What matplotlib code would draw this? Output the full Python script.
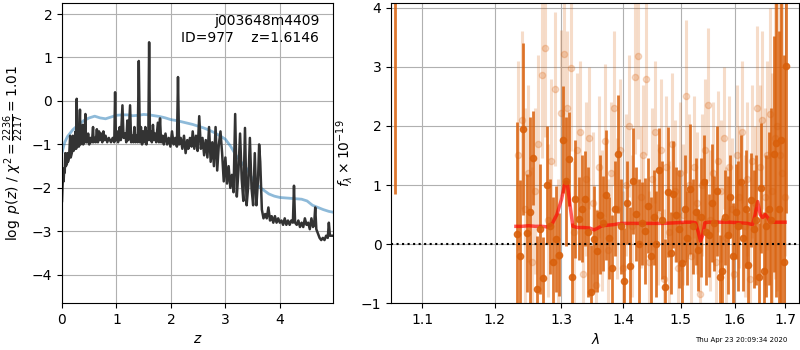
import numpy as np
import matplotlib
matplotlib.use('Agg')
import matplotlib.pyplot as plt
from matplotlib.ticker import FixedLocator, NullLocator, FixedFormatter

# --- p(z) panel ---
z_grid = [0.00, 0.01, 0.02, 0.03, 0.04, 0.05, 0.06, 0.07, 0.09, 0.10, 0.11, 0.13, 0.15, 0.16,
          0.18, 0.20, 0.21, 0.23, 0.25, 0.26, 0.27, 0.28, 0.30, 0.31, 0.33, 0.34, 0.36, 0.38,
          0.39, 0.41, 0.43, 0.44, 0.46, 0.48, 0.50, 0.52, 0.55, 0.57, 0.58, 0.60, 0.62, 0.64,
          0.66, 0.68, 0.70, 0.72, 0.74, 0.76, 0.78, 0.80, 0.83, 0.86, 0.90, 0.93, 0.96, 0.975,
          0.99, 1.01, 1.03, 1.06, 1.08, 1.11, 1.13, 1.16, 1.18, 1.20, 1.22, 1.25, 1.27, 1.29,
          1.31, 1.33, 1.35, 1.37, 1.39, 1.41, 1.43, 1.45, 1.47, 1.49, 1.51, 1.53, 1.55, 1.57,
          1.585, 1.60, 1.615, 1.63, 1.65, 1.67, 1.69, 1.71, 1.73, 1.76, 1.78, 1.80, 1.82, 1.85,
          1.87, 1.90, 1.93, 1.96, 1.99, 2.02, 2.05, 2.08, 2.11, 2.13, 2.15, 2.18, 2.21, 2.24,
          2.27, 2.30, 2.32, 2.35, 2.38, 2.40, 2.43, 2.46, 2.49, 2.52, 2.55, 2.58, 2.61, 2.64,
          2.67, 2.70, 2.73, 2.76, 2.79, 2.82, 2.85, 2.88, 2.91, 2.94, 2.97, 3.00, 3.03, 3.06,
          3.09, 3.12, 3.15, 3.18, 3.21, 3.24, 3.27, 3.30, 3.33, 3.36, 3.39, 3.42, 3.45, 3.48,
          3.51, 3.54, 3.57, 3.60, 3.62, 3.64, 3.67, 3.70, 3.73, 3.76, 3.79, 3.82, 3.85, 3.88,
          3.91, 3.94, 3.97, 4.00, 4.03, 4.06, 4.09, 4.12, 4.15, 4.18, 4.21, 4.24, 4.26, 4.28,
          4.31, 4.34, 4.37, 4.40, 4.43, 4.46, 4.49, 4.52, 4.55, 4.58, 4.61, 4.63, 4.65, 4.67,
          4.70, 4.73, 4.76, 4.79, 4.82, 4.85, 4.88, 4.90, 4.92, 4.95, 4.98]
logpz = [-2.30, -1.95, -1.70, -1.85, -1.55, -1.65, -1.20, -1.50, -1.45, -1.20, -1.40, -1.30, -0.80, -1.30,
         -1.20, -0.80, -1.15, -1.10, -0.70, -1.10, 0.05, -1.05, -0.80, -1.05, -0.20, -1.00, -0.95, -0.55,
         -1.00, -0.90, -0.30, -0.95, -0.95, -0.75, -1.00, -0.85, -0.95, -0.60, -0.95, -0.85, -0.95, -0.65,
         -0.95, -0.70, -0.90, -0.75, -0.95, -0.70, -0.90, -0.80, -0.95, -0.85, -0.95, -0.85, -0.95, 0.20,
         -0.90, -0.70, -0.95, -0.60, -0.90, -0.10, -0.85, -0.75, -0.95, -0.45, -0.90, -0.10, -0.95, -0.80,
         -0.95, -0.60, -0.95, -0.80, -0.95, 0.92, -0.95, -0.60, -1.00, -0.70, -0.95, -0.60, -1.00, -0.70,
         -0.90, 1.35, -0.90, -0.70, -0.95, -0.55, -0.90, -0.75, -0.95, -0.50, -0.95, -0.40, -0.95, -0.80,
         -1.00, -0.75, -1.00, -0.85, -1.05, -0.70, -1.00, -0.85, -1.05, 0.55, -1.00, -0.85, -1.10, -0.80,
         -1.20, -0.90, -1.10, -0.85, -1.05, -0.70, -1.10, -0.80, -1.15, -0.35, -1.10, -0.85, -1.25, -0.90,
         -1.30, -0.60, -1.40, -0.95, -1.50, -0.60, -1.60, -1.00, -0.70, -1.20, -1.85, -1.30, -1.90, -1.50,
         -2.00, -1.70, -2.10, -0.30, -2.20, -1.60, -0.75, -1.80, -2.30, -0.62, -2.40, -1.95, -0.85, -2.00,
         -2.40, -1.20, -2.40, -1.80, -1.00, -1.40, -2.50, -2.70, -2.60, -2.70, -2.45, -2.75, -2.65, -2.80,
         -2.65, -2.80, -2.70, -2.80, -2.75, -2.85, -2.70, -2.85, -2.75, -2.85, -2.75, -2.80, -1.95, -2.80,
         -2.85, -2.75, -2.90, -2.80, -2.90, -2.70, -2.85, -2.80, -2.95, -2.70, -2.90, -2.85, -2.45, -2.95,
         -3.05, -3.15, -3.20, -3.15, -3.20, -3.10, -3.15, -2.80, -3.10, -3.10, -3.10]

z_prior = [0.00, 0.05, 0.10, 0.20, 0.30, 0.40, 0.50, 0.60, 0.65, 0.70, 0.80, 0.90, 1.00, 1.10,
           1.20, 1.30, 1.40, 1.50, 1.60, 1.70, 1.80, 1.90, 2.00, 2.10, 2.20, 2.30, 2.40, 2.50,
           2.60, 2.70, 2.80, 2.90, 3.00, 3.10, 3.20, 3.30, 3.40, 3.50, 3.60, 3.70, 3.80, 3.90,
           4.00, 4.10, 4.20, 4.30, 4.40, 4.50, 4.60, 4.70, 4.80, 4.90, 4.98]
logp_prior = [-1.19, -0.95, -0.82, -0.66, -0.55, -0.45, -0.39, -0.35, -0.37, -0.39, -0.41, -0.37, -0.33, -0.32,
              -0.32, -0.34, -0.33, -0.31, -0.32, -0.34, -0.36, -0.39, -0.43, -0.45, -0.48, -0.51, -0.54, -0.58,
              -0.62, -0.67, -0.73, -0.80, -0.88, -1.05, -1.26, -1.42, -1.57, -1.80, -1.95, -2.05, -2.14, -2.19,
              -2.22, -2.23, -2.24, -2.25, -2.26, -2.30, -2.40, -2.45, -2.50, -2.54, -2.56]

# --- spectrum panel ---
wave_a = [1.065,
          1.232, 1.237, 1.242, 1.247, 1.252, 1.257, 1.262, 1.267, 1.272, 1.277, 1.282, 1.287, 1.292,
          1.297, 1.302, 1.307, 1.312, 1.317, 1.322, 1.327, 1.332, 1.337, 1.342, 1.347, 1.352, 1.357,
          1.362, 1.367, 1.372, 1.377, 1.382, 1.387, 1.392, 1.397, 1.402, 1.407, 1.412, 1.417, 1.422,
          1.427, 1.432, 1.437, 1.442, 1.447, 1.452, 1.457, 1.462, 1.467, 1.472, 1.477, 1.482, 1.487,
          1.492, 1.497, 1.502, 1.507, 1.512, 1.517, 1.522, 1.527, 1.532, 1.537, 1.542, 1.547, 1.552,
          1.557, 1.562, 1.567, 1.572, 1.577, 1.582, 1.587, 1.592, 1.597, 1.602, 1.607, 1.612, 1.617,
          1.622, 1.627, 1.632, 1.637, 1.642, 1.647, 1.652, 1.657, 1.662, 1.667, 1.672, 1.677, 1.682,
          1.687, 1.692, 1.697, 1.702]
flux_a = [4.60,
          0.17, -0.21, 1.95, 0.19, 0.55, 1.46, -0.76, 0.26, -0.58, 1.00, 0.30, -0.30, 0.08,
          -0.18, 1.77, 1.06, 1.44, -0.55, 0.77, 0.43, 0.60, 0.77, 0.20, -0.82, 0.09, -0.12,
          0.50, 0.35, 0.83, 0.10, -0.40, 0.60, 1.53, 0.30, -0.62, 0.70, -0.38, 1.07, 0.51,
          0.00, 0.35, 0.22, 0.65, -0.20, 0.45, 0.00, 1.26, 0.40, -0.72, 0.88, -0.15, 0.84,
          0.50, 0.25, -0.32, 0.60, 0.10, 0.94, 0.30, 0.55, -0.10, 0.45, 1.05, 0.20, 0.15,
          0.70, 0.35, 0.90, -0.55, -0.46, 0.45, 0.15, 0.80, -0.20, 0.55, 0.30, 1.05, 0.10,
          0.60, -0.35, 0.75, 0.25, 0.40, -0.55, 0.95, -0.46, 0.30, 0.60, 0.40, 1.53, 1.71,
          0.60, 1.77, -0.30, 3.02]
err_a = [3.75,
         1.90, 1.30, 1.45, 1.00, 1.60, 0.80, 0.90, 1.10, 0.70, 1.00, 0.80, 1.10, 0.90,
         0.70, 0.90, 1.10, 0.80, 0.90, 1.00, 0.70, 0.90, 0.80, 1.10, 0.80, 0.90, 0.70,
         1.00, 0.80, 1.10, 0.70, 0.90, 0.80, 1.00, 0.80, 0.90, 0.70, 1.00, 0.90, 0.80,
         1.10, 0.70, 0.90, 0.80, 1.00, 0.80, 0.90, 0.70, 1.00, 0.80, 1.10, 0.70, 0.90,
         0.80, 1.00, 0.70, 0.90, 0.80, 1.10, 0.80, 0.90, 0.70, 1.00, 0.80, 0.90, 0.70,
         1.00, 0.80, 1.10, 0.70, 0.90, 0.80, 1.00, 0.70, 0.90, 0.80, 1.10, 0.80, 0.90,
         1.00, 0.90, 0.80, 1.00, 1.10, 0.90, 1.10, 1.00, 1.20, 1.30, 1.90, 2.00, 2.60,
         3.00, 3.00, 3.50, 2.50]

wave_b = [1.2345, 1.2395, 1.2445, 1.2495, 1.2545, 1.2595, 1.2645, 1.2695, 1.2745, 1.2795, 1.2845,
          1.2895, 1.2945, 1.2995, 1.3045, 1.3095, 1.3145, 1.3195, 1.3245, 1.3295, 1.3345, 1.3395,
          1.3445, 1.3495, 1.3545, 1.3595, 1.3645, 1.3695, 1.3745, 1.3795, 1.3845, 1.3895, 1.3945,
          1.3995, 1.4045, 1.4095, 1.4145, 1.4195, 1.4245, 1.4295, 1.4345, 1.4395, 1.4445, 1.4495,
          1.4545, 1.4595, 1.4645, 1.4695, 1.4745, 1.4795, 1.4845, 1.4895, 1.4945, 1.4995, 1.5045,
          1.5095, 1.5145, 1.5195, 1.5245, 1.5295, 1.5345, 1.5395, 1.5445, 1.5495, 1.5545, 1.5595,
          1.5645, 1.5695, 1.5745, 1.5795, 1.5845, 1.5895, 1.5945, 1.5995, 1.6045, 1.6095, 1.6145,
          1.6195, 1.6245, 1.6295, 1.6345, 1.6395, 1.6445, 1.6495, 1.6545, 1.6595, 1.6645, 1.6695,
          1.6745, 1.6795, 1.6845, 1.6895, 1.6945, 1.6995]
flux_b = [1.50, 2.10, 0.60, 1.20, -0.30, 0.90, 1.70, 2.86, 3.32, 0.40, 1.40,
          2.63, -0.20, 2.22, 3.22, 2.30, 2.98, 0.20, 1.60, 1.90, -0.50, 1.10,
          1.80, 0.70, -0.70, 1.30, 0.40, 1.75, -0.10, 1.20, 2.30, 0.60, 1.60,
          -0.40, 1.00, 2.00, 0.30, 2.83, 3.18, 0.80, 1.50, 2.80, -0.30, 1.10,
          1.90, 0.50, 1.60, -0.60, 1.30, 0.20, 1.70, 0.90, -0.40, 1.20, 0.50,
          2.50, 1.00, -0.20, 1.30, 0.70, -0.85, 1.00, 1.60, 2.36, 0.40, 1.20,
          -0.30, 1.40, 0.90, 1.80, 0.10, 1.30, 0.60, -0.50, 1.50, 0.80, 1.90,
          0.30, 1.10, -0.60, 1.40, 0.70, 2.30, 1.30, 2.10, 0.80, 1.50, 2.20,
          0.90, 1.80, 2.00, 1.50, 1.20, 0.80]
err_b = [1.60, 1.50, 1.70, 1.50, 1.60, 1.40, 1.50, 1.40, 1.50, 1.30, 1.40,
         1.30, 1.30, 1.40, 1.40, 1.30, 1.40, 1.20, 1.30, 1.20, 1.20, 1.30,
         1.20, 1.20, 1.30, 1.20, 1.20, 1.30, 1.20, 1.20, 1.30, 1.20, 1.20,
         1.30, 1.20, 1.20, 1.20, 1.30, 1.40, 1.20, 1.20, 1.30, 1.20, 1.20,
         1.20, 1.20, 1.20, 1.20, 1.20, 1.20, 1.20, 1.20, 1.20, 1.20, 1.20,
         1.30, 1.20, 1.20, 1.20, 1.20, 1.20, 1.20, 1.20, 1.30, 1.20, 1.20,
         1.20, 1.20, 1.20, 1.20, 1.20, 1.20, 1.20, 1.20, 1.20, 1.20, 1.20,
         1.20, 1.30, 1.30, 1.30, 1.30, 1.40, 1.40, 1.50, 1.50, 1.60, 1.80,
         2.00, 2.40, 2.80, 3.00, 3.20, 1.00]

wave_model = [1.231, 1.24, 1.25, 1.26, 1.27, 1.278, 1.285, 1.293, 1.300, 1.306, 1.309, 1.313, 1.318,
              1.325, 1.335, 1.345, 1.352, 1.358, 1.365, 1.375, 1.385, 1.395, 1.41, 1.43, 1.45,
              1.47, 1.49, 1.51, 1.52, 1.527, 1.532, 1.536, 1.540, 1.544, 1.55, 1.57, 1.59,
              1.61, 1.625, 1.635, 1.640, 1.645, 1.650, 1.655, 1.660, 1.665, 1.670, 1.680, 1.690, 1.700]
flux_model = [0.30, 0.30, 0.31, 0.30, 0.30, 0.29, 0.33, 0.50, 0.75, 1.05, 1.05, 0.70, 0.30,
              0.28, 0.28, 0.27, 0.24, 0.27, 0.31, 0.32, 0.33, 0.35, 0.35, 0.35, 0.35,
              0.35, 0.36, 0.37, 0.37, 0.36, 0.20, 0.05, 0.15, 0.36, 0.37, 0.37, 0.37,
              0.36, 0.35, 0.33, 0.50, 0.72, 0.50, 0.45, 0.50, 0.45, 0.37, 0.37, 0.37, 0.37]

wave_ticks = [1.1, 1.2, 1.3, 1.4, 1.5, 1.6, 1.7]

orange = '#d9600b'

fig = plt.figure(figsize=(8, 3.5), dpi=100)
ax1 = fig.add_axes([0.0775, 0.134, 0.339, 0.857])
ax2 = fig.add_axes([0.489, 0.134, 0.510, 0.857])

# p(z)
ax1.plot(z_prior, logp_prior, color='#1f77b4', alpha=0.5, lw=2)
ax1.plot(z_grid, logpz, color='0.2', lw=1.8)
ax1.set_xlim(0, 4.98)
ax1.set_ylim(-4.65, 2.25)
ax1.set_xticks([0, 1, 2, 3, 4])
ax1.set_yticks([-4, -3, -2, -1, 0, 1, 2])
ax1.grid()
ax1.set_xlabel(r'$z$')
ax1.set_ylabel(r'$\log\ p(z)$ / $\chi^2=\frac{2236}{2217}=1.01$')
ax1.text(0.948, 0.965, 'j003648m4409\nID=977    z=1.6146', transform=ax1.transAxes,
         ha='right', va='top', fontsize=10, linespacing=1.3)

# spectrum
ax2.errorbar(wave_b, flux_b, yerr=err_b, fmt='o', color=orange, ms=4.5,
             elinewidth=2.2, capsize=0, alpha=0.22)
ax2.errorbar(wave_a, flux_a, yerr=err_a, fmt='o', color=orange, ms=4.5,
             elinewidth=2.0, capsize=0, alpha=0.85)
ax2.plot(wave_model, flux_model, color='r', alpha=0.65, lw=2.5)
ax2.axhline(0, color='k', ls=':', lw=1.5)
ax2.set_xscale('log')
ax2.set_xlim(1.06, 1.729)
ax2.set_ylim(-1, 4.08)
ax2.xaxis.set_major_locator(FixedLocator(wave_ticks))
ax2.xaxis.set_major_formatter(FixedFormatter([f'{w:.1f}' for w in wave_ticks]))
ax2.xaxis.set_minor_locator(NullLocator())
ax2.set_yticks([-1, 0, 1, 2, 3, 4])
ax2.grid()
ax2.set_xlabel(r'$\lambda$')
ax2.set_ylabel(r'$f_\lambda\times10^{-19}$')

fig.text(0.927, 0.029, 'Thu Apr 23 20:09:34 2020', ha='center', va='center', fontsize=5)

fig.savefig('out.png', dpi=100)
